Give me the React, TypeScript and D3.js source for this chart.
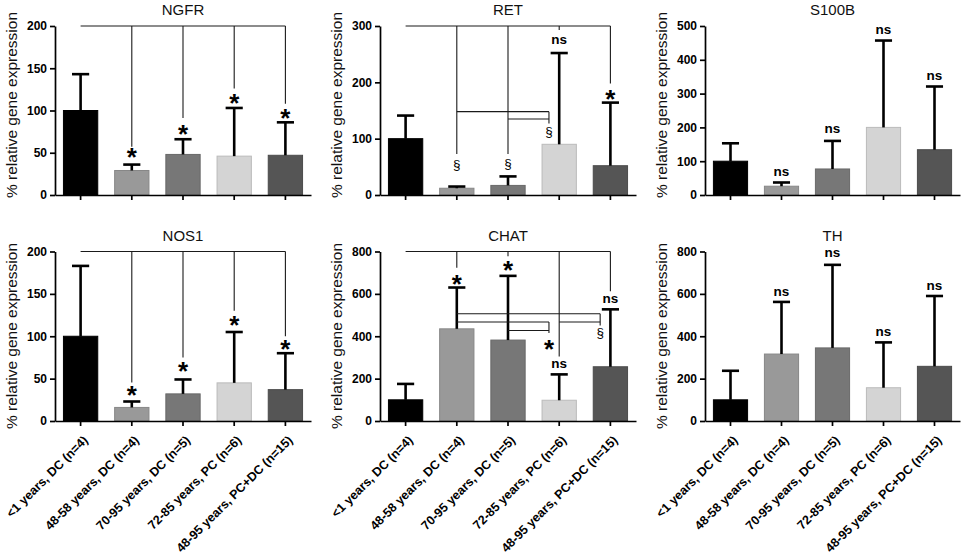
import React, { useEffect, useRef } from 'react';
import * as d3 from 'd3';

const categories = [
  '<1 years, DC (n=4)',
  '48-58 years, DC (n=4)',
  '70-95 years, DC (n=5)',
  '72-85 years, PC (n=6)',
  '48-95 years, PC+DC (n=15)',
];
const barColors = ['#000000', '#999999', '#777777', '#d4d4d4', '#555555'];

// mean (bar) and mean+SD (error bar top), % relative gene expression
const ngfrMean = [100, 29, 48, 46, 47];
const ngfrErr = [143, 36, 66, 103, 86];
const retMean = [100, 12, 17, 90, 52];
const retErr = [141, 15, 33, 252, 164];
const s100bMean = [100, 26, 77, 200, 134];
const s100bErr = [153, 37, 160, 457, 321];
const nos1Mean = [100, 16, 32, 45, 37];
const nos1Err = [183, 23, 49, 105, 80];
const chatMean = [100, 435, 382, 98, 256];
const chatErr = [175, 630, 685, 220, 527];
const thMean = [100, 316, 345, 157, 258];
const thErr = [237, 562, 737, 371, 590];

const ticks200 = [0, 50, 100, 150, 200];
const ticks300 = [0, 100, 200, 300];
const ticks500 = [0, 100, 200, 300, 400, 500];
const ticks800 = [0, 200, 400, 600, 800];

// significance bracket segments: [xIndex1, value1, xIndex2, value2]
const ngfrLines = [[0, 200, 4, 200], [1, 200, 1, 57], [2, 200, 2, 91], [3, 200, 3, 126], [4, 200, 4, 108]];
const retLines = [
  [0, 300, 4, 300], [1, 300, 1, 73], [2, 300, 2, 73], [3, 300, 3, 293], [4, 300, 4, 198],
  [1, 148, 2.8, 148], [2, 135, 2.8, 135], [2.8, 148, 2.8, 127],
];
const s100bLines: number[][] = [];
const nos1Lines = [[0, 200, 4, 200], [1, 200, 1, 45.5], [2, 200, 2, 75], [3, 200, 3, 130], [4, 200, 4, 100]];
const chatLines = [
  [0, 800, 4, 800], [1, 800, 1, 723], [2, 800, 2, 778], [3, 800, 3, 304], [4, 800, 4, 612],
  [1, 506, 3.8, 506], [1, 467, 2.8, 467], [3, 467, 3.8, 467], [2, 427, 2.8, 427],
  [2.8, 467, 2.8, 415], [3.8, 506, 3.8, 451],
];
const thLines: number[][] = [];

// significance labels: [xIndex, value at glyph centre, text]
const ngfrMarks: [number, number, string][] = [[1, 51, '*'], [2, 79, '*'], [3, 115, '*'], [4, 98, '*']];
const retMarks: [number, number, string][] = [[1, 53, '§'], [2, 56, '§'], [2.8, 112, '§'], [3, 275, 'ns'], [4, 181, '*']];
const s100bMarks: [number, number, string][] = [[1, 66, 'ns'], [2, 193, 'ns'], [3, 488, 'ns'], [4, 351, 'ns']];
const nos1Marks: [number, number, string][] = [[1, 37.6, '*'], [2, 65, '*'], [3, 120, '*'], [4, 91.4, '*']];
const chatMarks: [number, number, string][] = [[1, 675, '*'], [2, 738, '*'], [3, 265, 'ns'], [4, 576, 'ns'], [2.8, 368, '*'], [3.8, 414, '§']];
const thMarks: [number, number, string][] = [[1, 607, 'ns'], [2, 789, 'ns'], [3, 418, 'ns'], [4, 634, 'ns']];

const FONT = '"Liberation Sans", Arial, Helvetica, sans-serif';
const width = 964;
const height = 554;

const cols = [{ x0: 55, x1: 311 }, { x0: 380, x1: 636 }, { x0: 705, x1: 960 }];
const rows = [{ top: 26, bottom: 195, labelY: 105 }, { top: 251.5, bottom: 421, labelY: 336 }];

const panels = [
  { title: 'NGFR', col: 0, row: 0, max: 200, ticks: ticks200, mean: ngfrMean, err: ngfrErr, lines: ngfrLines, marks: ngfrMarks },
  { title: 'RET', col: 1, row: 0, max: 300, ticks: ticks300, mean: retMean, err: retErr, lines: retLines, marks: retMarks },
  { title: 'S100B', col: 2, row: 0, max: 500, ticks: ticks500, mean: s100bMean, err: s100bErr, lines: s100bLines, marks: s100bMarks },
  { title: 'NOS1', col: 0, row: 1, max: 200, ticks: ticks200, mean: nos1Mean, err: nos1Err, lines: nos1Lines, marks: nos1Marks },
  { title: 'CHAT', col: 1, row: 1, max: 800, ticks: ticks800, mean: chatMean, err: chatErr, lines: chatLines, marks: chatMarks },
  { title: 'TH', col: 2, row: 1, max: 800, ticks: ticks800, mean: thMean, err: thErr, lines: thLines, marks: thMarks },
];

const markStyle: Record<string, { size: number; weight: string; off: number }> = {
  '*': { size: 26, weight: 'bold', off: 0.56 },
  'ns': { size: 13.5, weight: 'bold', off: 0.27 },
  '§': { size: 13.5, weight: 'normal', off: 0.3 },
};

export default function App() {
  const svgRef = useRef<SVGSVGElement>(null);

  useEffect(() => {
    if (!svgRef.current) return;
    const svg = d3.select(svgRef.current);
    svg.selectAll('*').remove();
    svg.append('rect').attr('width', width).attr('height', height).attr('fill', '#ffffff');

    panels.forEach(p => {
      const { x0, x1 } = cols[p.col];
      const { top, bottom, labelY } = rows[p.row];
      const x = d3.scaleBand<string>().domain(categories).range([x0, x1]).paddingInner(0.33).paddingOuter(0.165);
      const xc = d3.scaleLinear().domain([0, 4])
        .range([x(categories[0])! + x.bandwidth() / 2, x(categories[4])! + x.bandwidth() / 2]);
      const y = d3.scaleLinear().domain([0, p.max]).range([bottom, top]);
      const g = svg.append('g');

      g.append('text').attr('x', (x0 + x1) / 2).attr('y', top - 11).attr('text-anchor', 'middle')
        .style('font-family', FONT).style('font-size', '15px').attr('fill', '#111').text(p.title);

      g.append('text').attr('transform', `translate(${x0 - 38},${labelY}) rotate(-90)`).attr('text-anchor', 'middle')
        .style('font-family', FONT).style('font-size', '15.5px').attr('fill', '#111').text('% relative gene expression');

      // bars
      g.selectAll('rect.bar').data(p.mean).join('rect').attr('class', 'bar')
        .attr('x', (_, i) => x(categories[i])!)
        .attr('y', d => y(d))
        .attr('width', x.bandwidth())
        .attr('height', d => y(0) - y(d))
        .attr('fill', (_, i) => barColors[i])
        .attr('stroke', (_, i) => d3.color(barColors[i])!.darker(0.35).formatHex())
        .attr('stroke-width', 1);

      // error bars (upper only)
      const capW = x.bandwidth() * 0.5;
      const eb = g.selectAll('g.err').data(p.err).join('g').attr('class', 'err');
      eb.append('line')
        .attr('x1', (_, i) => xc(i)).attr('x2', (_, i) => xc(i))
        .attr('y1', (_, i) => y(p.mean[i])).attr('y2', d => y(d))
        .attr('stroke', '#000').attr('stroke-width', 2.6);
      eb.append('line')
        .attr('x1', (_, i) => xc(i) - capW / 2).attr('x2', (_, i) => xc(i) + capW / 2)
        .attr('y1', d => y(d)).attr('y2', d => y(d))
        .attr('stroke', '#000').attr('stroke-width', 2.6);

      // axes
      const ya = g.append('g').attr('transform', `translate(${x0},0)`)
        .call(d3.axisLeft(y).tickValues(p.ticks).tickSize(5).tickSizeOuter(0).tickPadding(3));
      ya.attr('font-family', FONT).attr('font-size', 12).attr('font-weight', 'bold');
      ya.select('.domain').attr('stroke', '#000').attr('stroke-width', 1.7);
      ya.selectAll('.tick line').attr('stroke', '#000').attr('stroke-width', 1.7);
      ya.selectAll('.tick text').attr('fill', '#000');

      const xa = g.append('g').attr('transform', `translate(0,${bottom})`)
        .call(d3.axisBottom(x).tickSize(5).tickSizeOuter(0));
      xa.attr('font-family', FONT).attr('font-size', 12.5).attr('font-weight', 'bold');
      xa.select('.domain').attr('stroke', '#000').attr('stroke-width', 1.7);
      xa.selectAll('.tick line').attr('stroke', '#000').attr('stroke-width', 1.7);
      if (p.row === 1) {
        xa.selectAll('.tick text').attr('fill', '#000')
          .attr('x', 0).attr('y', 0).attr('dy', null)
          .attr('text-anchor', 'end')
          .attr('transform', 'translate(8,20) rotate(-45)');
      } else {
        xa.selectAll('.tick text').remove();
      }

      // significance brackets
      g.selectAll('line.br').data(p.lines).join('line').attr('class', 'br')
        .attr('x1', d => xc(d[0])).attr('y1', d => y(d[1]))
        .attr('x2', d => xc(d[2])).attr('y2', d => y(d[3]))
        .attr('stroke', '#1a1a1a').attr('stroke-width', 1.1);

      g.selectAll('text.mk').data(p.marks).join('text').attr('class', 'mk')
        .attr('x', d => xc(d[0]))
        .attr('y', d => y(d[1]) + markStyle[d[2]].off * markStyle[d[2]].size)
        .attr('text-anchor', 'middle')
        .style('font-family', FONT)
        .style('font-size', d => `${markStyle[d[2]].size}px`)
        .style('font-weight', d => markStyle[d[2]].weight)
        .attr('fill', '#000')
        .text(d => d[2]);
    });
  }, []);

  return (
    <svg ref={svgRef} width={width} height={height} viewBox={`0 0 ${width} ${height}`}
      style={{ position: 'absolute', left: 0, top: 0, display: 'block' }} />
  );
}
